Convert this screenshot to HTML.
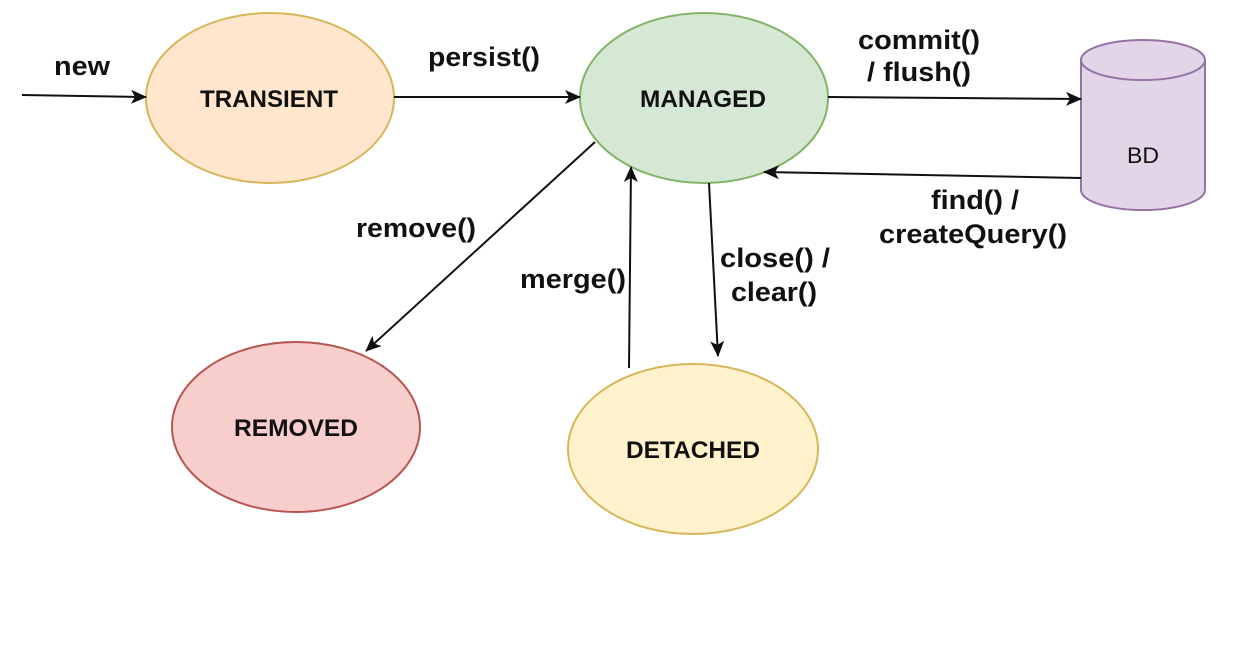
<!DOCTYPE html>
<html><head><meta charset="utf-8"><style>
html,body{margin:0;padding:0;background:#fff;}
svg{display:block;}
text{font-family:"Liberation Sans",Arial,sans-serif;font-weight:bold;fill:#111;}
</style></head><body>
<svg width="1242" height="648" viewBox="0 0 1242 648" xmlns="http://www.w3.org/2000/svg">
<defs>
<marker id="a" viewBox="0 0 16 14" refX="15" refY="7" markerWidth="16" markerHeight="14" markerUnits="userSpaceOnUse" orient="auto">
<path d="M0,0 L16,7 L0,14 L4,7 Z" fill="#111"/>
</marker>
</defs>
<ellipse cx="270" cy="98" rx="124" ry="85" fill="#ffe6cc" stroke="#d6b656" stroke-width="2"/>
<ellipse cx="704" cy="98" rx="124" ry="85" fill="#d5e8d4" stroke="#82b366" stroke-width="2"/>
<ellipse cx="296" cy="427" rx="124" ry="85" fill="#f8cecc" stroke="#b85450" stroke-width="2"/>
<ellipse cx="693" cy="449" rx="125" ry="85" fill="#fff2cc" stroke="#d6b656" stroke-width="2"/>
<path d="M1081,60 L1081,190 A62,20 0 0 0 1205,190 L1205,60" fill="#e1d5e7" stroke="#9673a6" stroke-width="2"/>
<ellipse cx="1143" cy="60" rx="62" ry="20" fill="#e1d5e7" stroke="#9673a6" stroke-width="2"/>
<text x="1143" y="163" font-size="22" text-anchor="middle" style="font-weight:normal" textLength="32" lengthAdjust="spacingAndGlyphs">BD</text>
<text x="269" y="107" font-size="24" text-anchor="middle" textLength="138" lengthAdjust="spacingAndGlyphs">TRANSIENT</text>
<text x="703" y="107" font-size="24" text-anchor="middle" textLength="126" lengthAdjust="spacingAndGlyphs">MANAGED</text>
<text x="296" y="436" font-size="24" text-anchor="middle" textLength="124" lengthAdjust="spacingAndGlyphs">REMOVED</text>
<text x="693" y="458" font-size="24" text-anchor="middle" textLength="134" lengthAdjust="spacingAndGlyphs">DETACHED</text>
<g stroke="#111" stroke-width="2" fill="none">
<line x1="22" y1="95" x2="146" y2="97" marker-end="url(#a)"/>
<line x1="394" y1="97" x2="580" y2="97" marker-end="url(#a)"/>
<line x1="828" y1="97" x2="1081" y2="99" marker-end="url(#a)"/>
<line x1="1081" y1="178" x2="764" y2="172" marker-end="url(#a)"/>
<line x1="595" y1="142" x2="366" y2="351" marker-end="url(#a)"/>
<line x1="629" y1="368" x2="631" y2="167" marker-end="url(#a)"/>
<line x1="709" y1="183" x2="718" y2="356" marker-end="url(#a)"/>
</g>
<g font-size="27">
<text x="82" y="75" text-anchor="middle" textLength="56" lengthAdjust="spacingAndGlyphs">new</text>
<text x="484" y="66" text-anchor="middle" textLength="112" lengthAdjust="spacingAndGlyphs">persist()</text>
<text x="919" y="49" text-anchor="middle" textLength="122" lengthAdjust="spacingAndGlyphs">commit()</text>
<text x="919" y="81" text-anchor="middle" textLength="104" lengthAdjust="spacingAndGlyphs">/ flush()</text>
<text x="975" y="209" text-anchor="middle" textLength="88" lengthAdjust="spacingAndGlyphs">find() /</text>
<text x="973" y="243" text-anchor="middle" textLength="188" lengthAdjust="spacingAndGlyphs">createQuery()</text>
<text x="416" y="237" text-anchor="middle" textLength="120" lengthAdjust="spacingAndGlyphs">remove()</text>
<text x="573" y="288" text-anchor="middle" textLength="106" lengthAdjust="spacingAndGlyphs">merge()</text>
<text x="775" y="267" text-anchor="middle" textLength="110" lengthAdjust="spacingAndGlyphs">close() /</text>
<text x="774" y="301" text-anchor="middle" textLength="86" lengthAdjust="spacingAndGlyphs">clear()</text>
</g>
</svg>
</body></html>
